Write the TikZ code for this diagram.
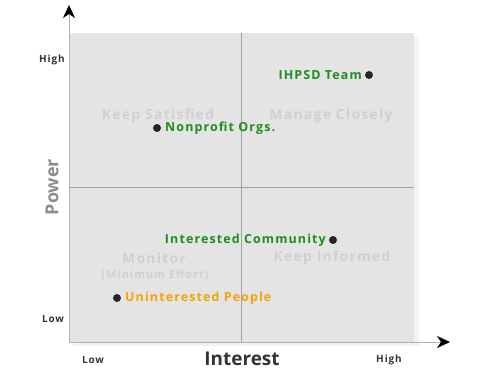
\documentclass[tikz,border=0pt]{standalone}
\usepackage{fontspec}
\setmainfont[LetterSpace=9]{Open Sans}
\usetikzlibrary{arrows.meta}
\definecolor{quad}{HTML}{E4E4E4}
\definecolor{shadow}{HTML}{F2F2F2}
\definecolor{qlabel}{HTML}{D0D0D0}
\definecolor{grn}{HTML}{1E8C1E}
\definecolor{orng}{HTML}{F5A300}
\definecolor{divider}{HTML}{A0A0A0}
\tikzset{
  axisline/.style={draw=black!30, line width=0.8bp},
  axisarrow/.style={-{Stealth[length=13bp,width=12bp,inset=4bp,color=black]}},
  qtext/.style={text=qlabel, font=\fontsize{14}{16}\selectfont\bfseries},
  qsub/.style={text=qlabel, font=\fontsize{11}{13}\selectfont\bfseries},
  dot/.style={circle, fill=black!85, inner sep=0pt, minimum size=8bp},
  gtext/.style={text=grn, font=\fontsize{12.5}{14}\selectfont\bfseries, inner sep=0pt},
  otext/.style={text=orng, font=\fontsize{12.5}{14}\selectfont\bfseries, inner sep=0pt},
  ticklabel/.style={text=black!80, font=\fontsize{10}{12}\selectfont\bfseries},
  axistitle/.style={font=\fontsize{19}{22}\selectfont\bfseries\addfontfeature{LetterSpace=0}},
}
\begin{document}
\begin{tikzpicture}[x=1bp,y=-1bp]
\useasboundingbox (0,0) rectangle (482,375);
% shadow and quadrant area
\fill[shadow] (73,37) rectangle (419,346);
\fill[quad] (69,33) rectangle (414,342);
% dividers
\draw[divider, line width=0.6bp] (241,33) -- (241,342);
\draw[divider, line width=0.6bp] (69,187) -- (414,187);
% axes
\coordinate (o) at (69,342);
\coordinate (ytip) at (69,5);
\coordinate (xtip) at (450,342);
\draw[axisline, axisarrow] (o) -- (ytip);
\draw[axisline, axisarrow] (o) -- (xtip);
% quadrant labels
\node[qtext] (ks) at (158,116) {Keep Satisfied};
\node[qtext] (mc) at (331,116) {Manage Closely};
\node[qtext] (mo) at (154,258) {Monitor};
\node[qsub] (me) at (155,275) {(Minimum Effort)};
\node[qtext] (ki) at (332,258) {Keep Informed};
% axis labels
\node[ticklabel] (yh) at (52,60) {High};
\node[ticklabel] (yl) at (53,319) {Low};
\node[ticklabel] (xl) at (93,360) {Low};
\node[ticklabel] (xh) at (389,360) {High};
\node[axistitle, text=black!80] (ix) at (242,359) {Interest};
\node[axistitle, text=black!45, rotate=90, font=\fontsize{18}{21}\selectfont\bfseries\addfontfeature{LetterSpace=0}] (py) at (52,187) {Power};
% stakeholders
\node[dot] (d1) at (369,75) {};
\node[gtext, anchor=east] (t1) at (362,75) {IHPSD Team};
\node[dot] (d2) at (157,128) {};
\node[gtext, anchor=west] (t2) at (165,128) {Nonprofit Orgs.};
\node[dot] (d3) at (333,240) {};
\node[gtext, anchor=east] (t3) at (326,240) {Interested Community};
\node[dot] (d4) at (117,298) {};
\node[otext, anchor=west] (t4) at (125,298) {Uninterested People};
\end{tikzpicture}
\end{document}
